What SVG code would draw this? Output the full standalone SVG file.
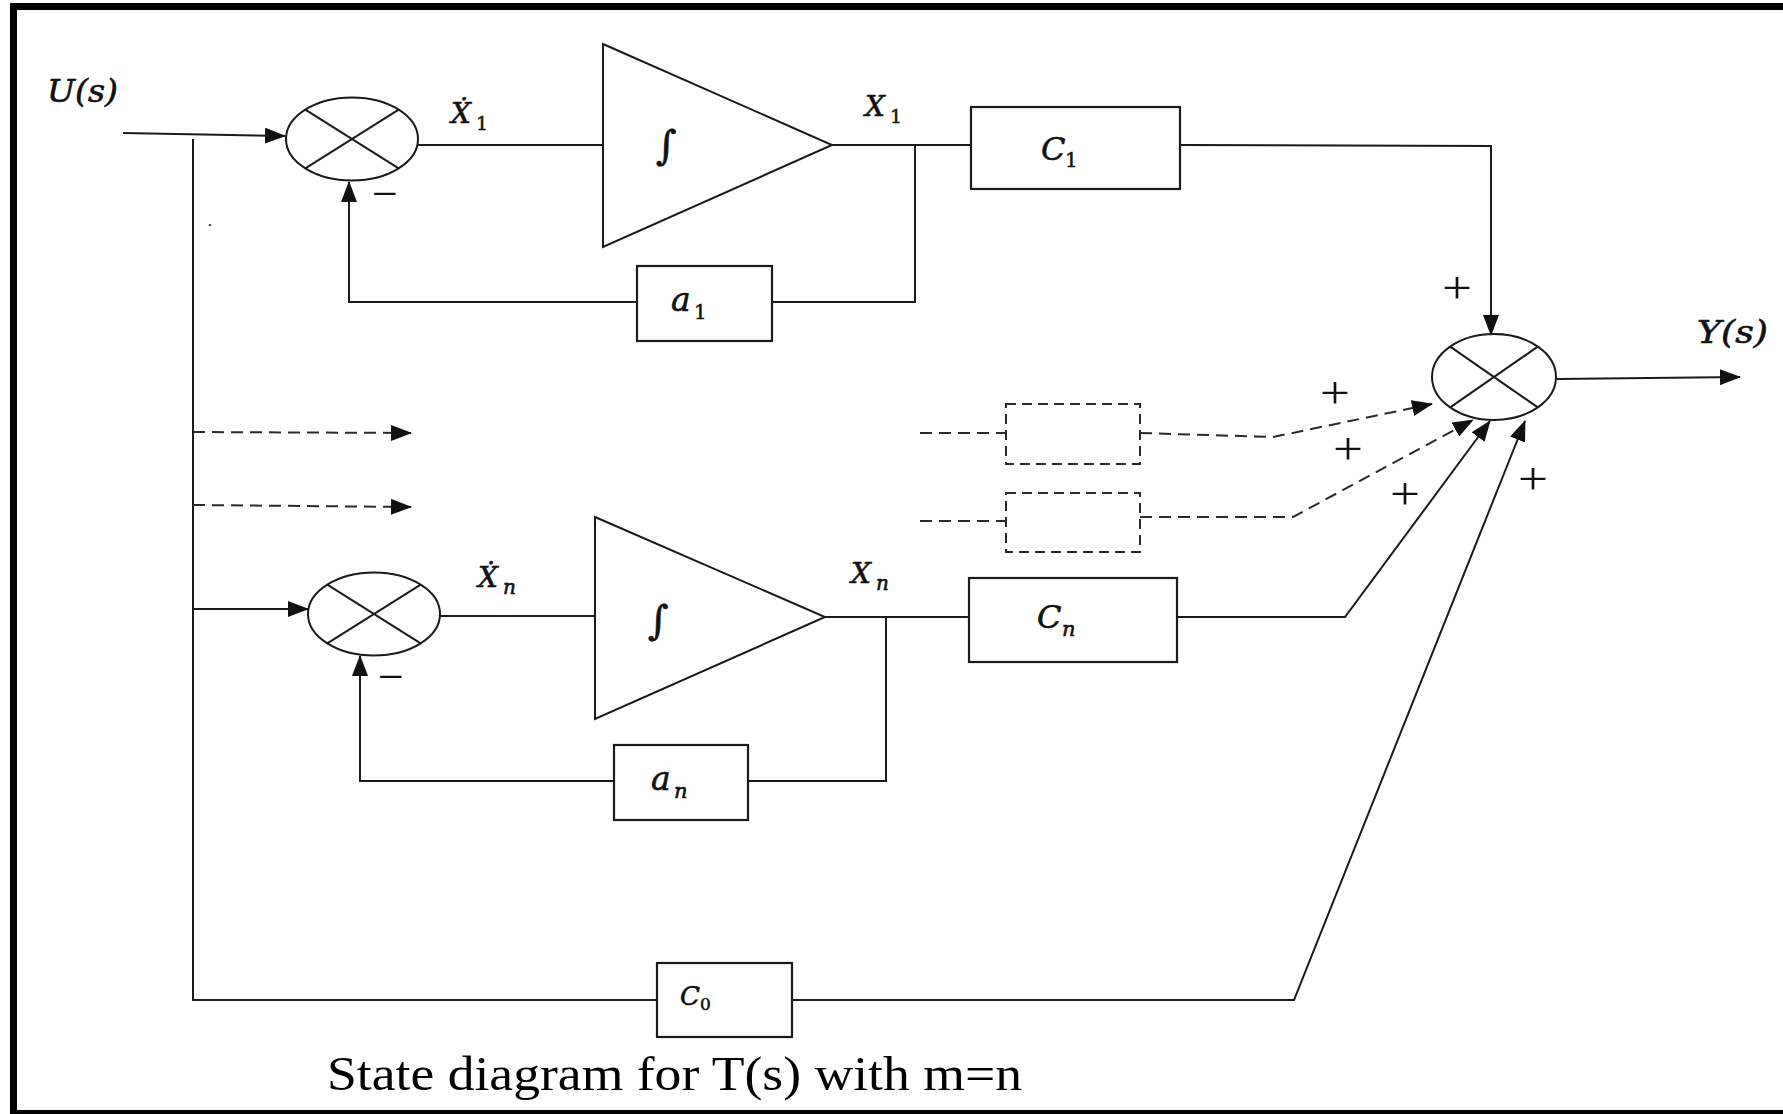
<svg xmlns="http://www.w3.org/2000/svg" width="1783" height="1114" viewBox="0 0 1783 1114">
<style>
.ln{fill:none;stroke:#1a1a1a;stroke-width:2}
.dl{fill:none;stroke:#2a2a2a;stroke-width:2;stroke-dasharray:12 7}
.bx{fill:#fff;stroke:#1a1a1a;stroke-width:2.2}
.dbx{fill:#fff;stroke:#2a2a2a;stroke-width:2;stroke-dasharray:10 6}
.m{font-family:"DejaVu Serif","Liberation Serif",serif;font-style:italic;fill:#111;stroke:#111;stroke-width:0.6}
.d{font-family:"DejaVu Serif","Liberation Serif",serif;font-style:normal;fill:#111;stroke:#111;stroke-width:0.5}
.sg{font-family:"Liberation Serif","Times New Roman",serif;font-size:46px;fill:#111}
.cap{font-family:"Liberation Serif","Times New Roman",serif;font-size:49px;fill:#000}
</style>
<defs>
<marker id="ah" markerUnits="userSpaceOnUse" markerWidth="21" markerHeight="16" refX="20" refY="8" orient="auto">
<path d="M0,0 L21,8 L0,16 z" fill="#111"/>
</marker>
</defs>
<rect width="1783" height="1114" fill="#fff"/>
<g id="frame" fill="#000">
<rect x="10" y="3" width="1773" height="7"/>
<rect x="10" y="3" width="7" height="1111"/>
<rect x="10" y="1110" width="1773" height="4"/>
</g>

<g id="connectors">
<path class="ln" d="M123,133 L285,136" marker-end="url(#ah)"/>
<path class="ln" d="M193,139 L193,1000 L657,1000"/>
<path class="ln" d="M418,145 L603,145"/>
<path class="ln" d="M832,145 L971,145"/>
<path class="ln" d="M915,145 L915,302 L772,302"/>
<path class="ln" d="M637,302 L349,302 L349,182" marker-end="url(#ah)"/>
<path class="ln" d="M1180,145 L1491,146 L1491,335" marker-end="url(#ah)"/>
<path class="ln" d="M1557,379 L1740,377" marker-end="url(#ah)"/>
<path class="dl" d="M193,432 L411,433" marker-end="url(#ah)"/>
<path class="dl" d="M193,505 L411,507" marker-end="url(#ah)"/>
<path class="dl" d="M920,433 L1006,433"/>
<path class="dl" d="M920,521 L1006,521"/>
<path class="dl" d="M1140,433 L1273,437 L1432,404" marker-end="url(#ah)"/>
<path class="dl" d="M1140,517 L1293,517 L1473,420" marker-end="url(#ah)"/>
<path class="ln" d="M193,609 L308,609" marker-end="url(#ah)"/>
<path class="ln" d="M440,616 L595,616"/>
<path class="ln" d="M825,617 L969,617"/>
<path class="ln" d="M886,617 L886,781 L748,781"/>
<path class="ln" d="M614,781 L360,781 L360,656" marker-end="url(#ah)"/>
<path class="ln" d="M1177,617 L1345,617 L1490,421" marker-end="url(#ah)"/>
<path class="ln" d="M792,1000 L1294,1000 L1525,421" marker-end="url(#ah)"/>
</g>

<g id="sum1">
<ellipse class="ln" cx="352" cy="139" rx="66" ry="41.5"/>
<path class="ln" d="M305.3,109.7 L398.7,168.3 M398.7,109.7 L305.3,168.3"/>
<text class="sg" x="372" y="209" font-size="40">−</text>
</g>
<g id="int1">
<path class="ln" d="M603,44 L832,145 L603,247 Z"/>
<text class="m" x="656" y="159" font-size="40">∫</text>
</g>
<g id="c1">
<rect class="bx" x="971" y="107" width="209" height="82"/>
<text class="m" x="1041" y="160" font-size="32">C</text>
<text class="d" x="1065" y="167" font-size="20">1</text>
</g>
<g id="a1">
<rect class="bx" x="637" y="266" width="135" height="75"/>
<text class="m" x="671" y="311" font-size="33">a</text>
<text class="d" x="694" y="319" font-size="20">1</text>
</g>

<g id="sum2">
<ellipse class="ln" cx="1494" cy="377" rx="62" ry="43"/>
<path class="ln" d="M1450.2,346.6 L1537.8,407.4 M1537.8,346.6 L1450.2,407.4"/>
</g>

<g id="dashbox1"><rect class="dbx" x="1006" y="404" width="134" height="60"/></g>
<g id="dashbox2"><rect class="dbx" x="1006" y="493" width="134" height="59"/></g>

<g id="sumn">
<ellipse class="ln" cx="374" cy="614" rx="66" ry="41.5"/>
<path class="ln" d="M327.3,584.7 L420.7,643.3 M420.7,584.7 L327.3,643.3"/>
<text class="sg" x="378" y="692" font-size="40">−</text>
</g>
<g id="intn">
<path class="ln" d="M595,517 L825,617 L595,719 Z"/>
<text class="m" x="648" y="634" font-size="40">∫</text>
</g>
<g id="cn">
<rect class="bx" x="969" y="578" width="208" height="84"/>
<text class="m" x="1037" y="628" font-size="32">C</text>
<text class="m" x="1062" y="636" font-size="21">n</text>
</g>
<g id="an">
<rect class="bx" x="614" y="745" width="134" height="75"/>
<text class="m" x="651" y="790" font-size="33">a</text>
<text class="m" x="674" y="798" font-size="21">n</text>
</g>
<g id="c0">
<rect class="bx" x="657" y="963" width="135" height="74"/>
<text class="m" x="680" y="1005" font-size="26">C</text>
<text class="d" x="700" y="1010" font-size="17">0</text>
</g>

<g id="labels">
<text class="m" x="47" y="102" font-size="31" textLength="71" lengthAdjust="spacingAndGlyphs">U(s)</text>
<text class="m" x="1697" y="343" font-size="31" textLength="71" lengthAdjust="spacingAndGlyphs">Y(s)</text>
<text class="m" x="451" y="123" font-size="28">Ẋ</text>
<text class="d" x="476" y="130" font-size="19">1</text>
<text class="m" x="865" y="116" font-size="28">X</text>
<text class="d" x="890" y="123" font-size="19">1</text>
<text class="m" x="478" y="587" font-size="28">Ẋ</text>
<text class="m" x="503" y="594" font-size="20">n</text>
<text class="m" x="851" y="583" font-size="28">X</text>
<text class="m" x="876" y="590" font-size="20">n</text>
<text class="sg" x="1442" y="303" textLength="30" lengthAdjust="spacingAndGlyphs">+</text>
<text class="sg" x="1320" y="408" textLength="30" lengthAdjust="spacingAndGlyphs">+</text>
<text class="sg" x="1333" y="464" textLength="30" lengthAdjust="spacingAndGlyphs">+</text>
<text class="sg" x="1390" y="509" textLength="30" lengthAdjust="spacingAndGlyphs">+</text>
<text class="sg" x="1518" y="494" textLength="30" lengthAdjust="spacingAndGlyphs">+</text>
<text class="d" x="208" y="226" font-size="12">.</text>
</g>

<text class="cap" x="327" y="1090" textLength="695" lengthAdjust="spacingAndGlyphs">State diagram for T(s) with m=n</text>
</svg>
